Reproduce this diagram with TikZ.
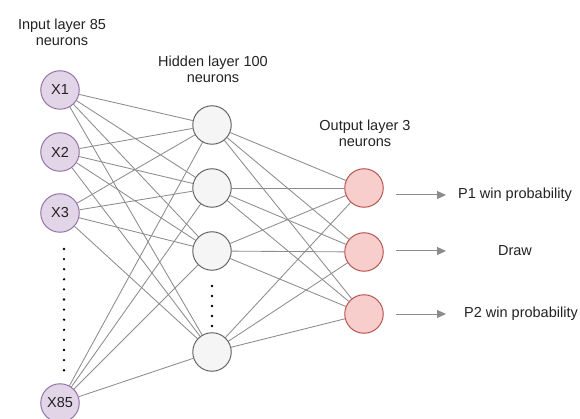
\documentclass[tikz,border=0pt]{standalone}
\usepackage{fontspec}
\setmainfont{Liberation Sans}
\usetikzlibrary{arrows.meta}
\definecolor{inFill}{HTML}{E1D5E7}
\definecolor{inDraw}{HTML}{9673A6}
\definecolor{hidFill}{HTML}{F5F5F5}
\definecolor{hidDraw}{HTML}{666666}
\definecolor{outFill}{HTML}{F8CECC}
\definecolor{outDraw}{HTML}{B85450}
\definecolor{edgeC}{HTML}{8C8C8C}
\definecolor{txt}{HTML}{222222}
\tikzset{
  neuron/.style={circle, minimum size=38.5pt, inner sep=0pt, line width=1pt, text=txt, font=\fontsize{14.5}{16}\selectfont},
  innode/.style={neuron, draw=inDraw, fill=inFill},
  hidnode/.style={neuron, draw=hidDraw, fill=hidFill},
  outnode/.style={neuron, draw=outDraw, fill=outFill},
  conn/.style={draw=edgeC, line width=0.85pt},
  outarrow/.style={draw=edgeC, line width=1pt, -{Triangle[length=9pt,width=8pt]}},
  caption/.style={align=center, text=txt, font=\fontsize{14.5}{16}\selectfont, inner sep=0pt},
  dotmark/.style={fill=black}
}
\begin{document}
\begin{tikzpicture}[x=1pt,y=-1pt]
\useasboundingbox (0,0) rectangle (580,419);

% captions
\node[caption] (capIn) at (62,32) {Input layer 85\\neurons};
\node[caption] (capHid) at (213,69) {Hidden layer 100\\neurons};
\node[caption] (capOut) at (365,133) {Output layer 3\\neurons};

% input layer (placed first for naming)
\path (60,90) coordinate (px1) (60,152) coordinate (px2) (60,213) coordinate (px3) (60,403) coordinate (px85);
\path (212,125) coordinate (ph1) (212,188) coordinate (ph2) (212,251) coordinate (ph3) (212,352) coordinate (ph4);
\path (364,188) coordinate (po1) (364,252) coordinate (po2) (364,314) coordinate (po3);

% nodes (invisible first pass to define names for clipping)
\foreach \n in {x1,x2,x3,x85,h1,h2,h3,h4,o1,o2,o3}{
  \node[neuron] (\n) at (p\n) {};
}

% connections
\foreach \i in {x1,x2,x3,x85}{
  \foreach \h in {h1,h2,h3,h4}{
    \draw[conn] (\i) -- (\h);
  }
}
\foreach \h in {h1,h2,h3,h4}{
  \foreach \o in {o1,o2,o3}{
    \draw[conn] (\h) -- (\o);
  }
}

% visible nodes on top of lines
\node[innode] (vx1) at (x1) {X1};
\node[innode] (vx2) at (x2) {X2};
\node[innode] (vx3) at (x3) {X3};
\node[innode] (vx85) at (x85) {X85};
\node[hidnode] (vh1) at (h1) {};
\node[hidnode] (vh2) at (h2) {};
\node[hidnode] (vh3) at (h3) {};
\node[hidnode] (vh4) at (h4) {};
\node[outnode] (vo1) at (o1) {};
\node[outnode] (vo2) at (o2) {};
\node[outnode] (vo3) at (o3) {};

% dots
\foreach \k in {0,...,12}{
  \fill[dotmark] (64,249+\k*10.1) circle (1.3);
}
\foreach \k in {0,...,4}{
  \fill[dotmark] (212,286+\k*10) circle (1.3);
}

% output labels
\node[caption] (l1) at (515,195) {P1 win probability};
\node[caption] (l2) at (515,251) {Draw};
\node[caption] (l3) at (521,314) {P2 win probability};

\coordinate (a1s) at (396,195);
\coordinate (a1e) at (446,195);
\coordinate (a2s) at (396,251);
\coordinate (a2e) at (446,251);
\coordinate (a3s) at (396,314);
\coordinate (a3e) at (446,314);
\draw[outarrow] (a1s) -- (a1e);
\draw[outarrow] (a2s) -- (a2e);
\draw[outarrow] (a3s) -- (a3e);
\end{tikzpicture}
\end{document}
